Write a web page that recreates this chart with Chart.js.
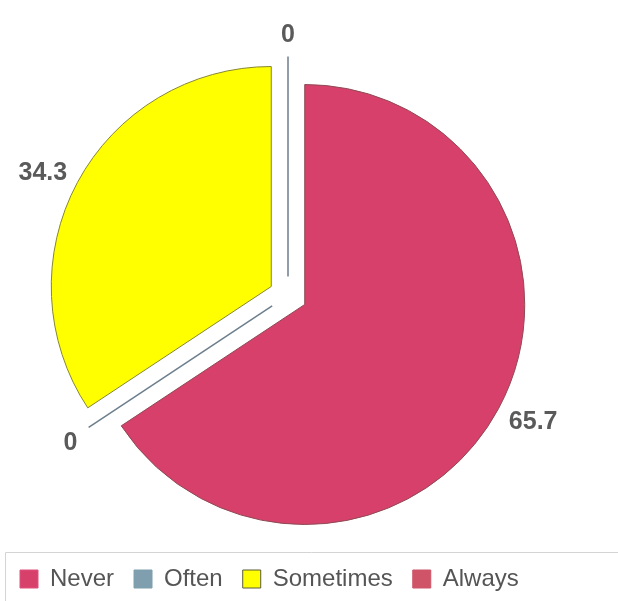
<!DOCTYPE html>
<html>
<head>
<meta charset="utf-8">
<script src="https://cdn.jsdelivr.net/npm/chart.js@4/dist/chart.umd.min.js"></script>
<style>
html, body { margin: 0; padding: 0; background: #fff; }
#wrap { width: 618px; height: 601px; }
</style>
</head>
<body>
<div id="wrap"><canvas id="pie-chart"></canvas></div>
<script>
const labels = ["Never", "Often", "Sometimes", "Always"];
const values = [65.7, 0, 34.3, 0];
const fillColors = ["#d7406a", "#7f9fae", "#ffff00", "#cf5468"];
const borderColors = ["#8e4a54", "#6c7e8c", "#86862f", "#6c7e8c"];
const legendBorders = ["#e0507c", "#7f9fae", "#5a5a3a", "#cf5468"];

const explode = 19;

// pulls each slice out along its middle angle; empty slices become a single radius line
const explodedPie = {
  id: 'explodedPie',
  beforeDatasetDraw(chart, args) {
    const ctx = chart.ctx;
    args.meta.data.forEach((arc) => {
      const mid = (arc.startAngle + arc.endAngle) / 2;
      ctx.save();
      ctx.translate(Math.cos(mid) * explode, Math.sin(mid) * explode);
      if (arc.circumference > 0) {
        arc.draw(ctx, chart.chartArea);
      } else {
        ctx.beginPath();
        ctx.moveTo(arc.x, arc.y);
        ctx.lineTo(arc.x + Math.cos(arc.startAngle) * arc.outerRadius,
                   arc.y + Math.sin(arc.startAngle) * arc.outerRadius);
        ctx.strokeStyle = arc.options.borderColor;
        ctx.lineWidth = 1.5;
        ctx.stroke();
      }
      ctx.restore();
    });
    return false;
  },
  afterDatasetsDraw(chart) {
    const ctx = chart.ctx;
    const meta = chart.getDatasetMeta(0);
    ctx.save();
    ctx.font = 'bold 25px "Liberation Sans", Arial, sans-serif';
    ctx.fillStyle = '#5a5a5a';
    ctx.textAlign = 'center';
    ctx.textBaseline = 'alphabetic';
    meta.data.forEach((arc, i) => {
      const mid = (arc.startAngle + arc.endAngle) / 2;
      const c = Math.cos(mid), s = Math.sin(mid);
      const text = String(values[i]);
      const w = ctx.measureText(text).width, h = 18;
      const r = arc.outerRadius + 34;
      const x = arc.x + c * r + c * w / 2;
      const y = arc.y + s * r + s * h / 2;
      ctx.fillText(text, x, y + h / 2);
    });
    ctx.restore();
  },
  afterDraw(chart) {
    const ctx = chart.ctx;
    ctx.save();
    ctx.strokeStyle = '#d4d4d4';
    ctx.lineWidth = 1;
    ctx.beginPath();
    ctx.moveTo(5.5, 601);
    ctx.lineTo(5.5, 552.5);
    ctx.lineTo(618, 552.5);
    ctx.stroke();
    ctx.restore();
  }
};

new Chart(document.getElementById("pie-chart"), {
  type: 'pie',
  data: {
    labels: labels,
    datasets: [{
      data: values,
      backgroundColor: fillColors,
      borderColor: borderColors,
      borderWidth: 1
    }]
  },
  options: {
    responsive: true,
    maintainAspectRatio: false,
    animation: false,
    radius: 220,
    layout: { padding: { top: 44, right: 42, left: 0, bottom: 0 } },
    plugins: {
      tooltip: { enabled: false },
      legend: {
        position: 'bottom',
        align: 'start',
        labels: {
          boxWidth: 18,
          boxHeight: 18,
          padding: 20,
          color: '#555',
          font: { family: '"Liberation Sans", Arial, sans-serif', size: 24 },
          generateLabels(chart) {
            const items = Chart.overrides.pie.plugins.legend.labels.generateLabels(chart);
            items.forEach((it, i) => {
              it.strokeStyle = legendBorders[i];
              it.lineWidth = 1;
            });
            return items;
          }
        }
      }
    }
  },
  plugins: [explodedPie]
});
</script>
</body>
</html>
